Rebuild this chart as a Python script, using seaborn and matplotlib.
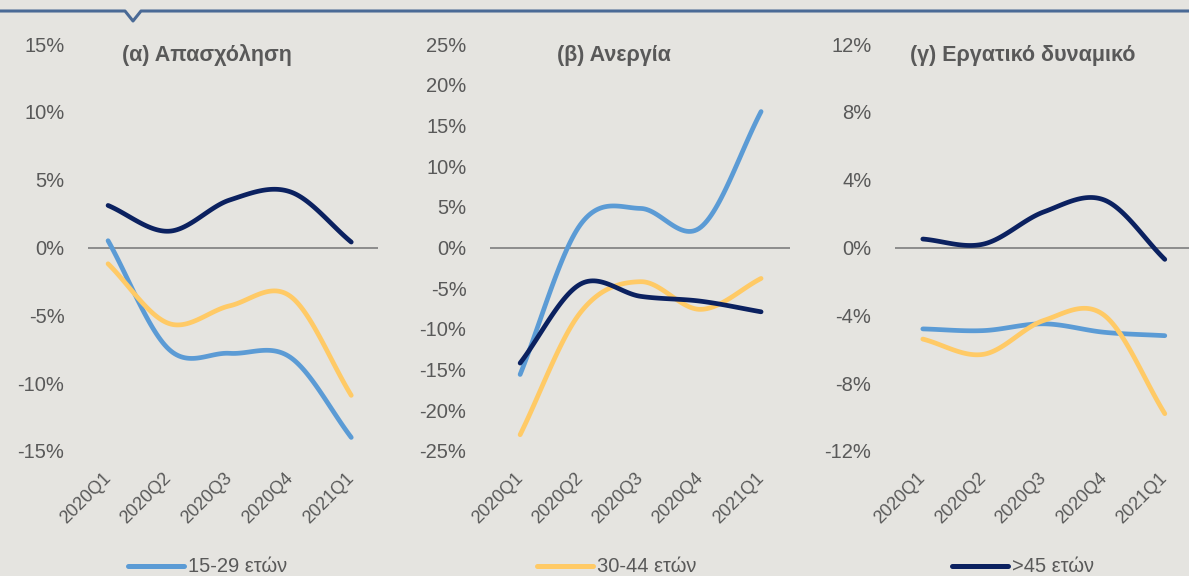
import numpy as np
import pandas as pd
import matplotlib
matplotlib.use("Agg")
import matplotlib.pyplot as plt
import seaborn as sns
from matplotlib.lines import Line2D

# ---------------- data ----------------
quarters = ["2020Q1", "2020Q2", "2020Q3", "2020Q4", "2021Q1"]
series_names = ["15-29 ετών", "30-44 ετών", ">45 ετών"]
titles = ["(α) Απασχόληση", "(β) Ανεργία", "(γ) Εργατικό δυναμικό"]

emp_15_29 = [0.5, -7.5, -7.8, -8.1, -14.0]
emp_30_44 = [-1.2, -5.6, -4.3, -3.6, -10.9]
emp_45 = [3.1, 1.2, 3.5, 4.1, 0.4]

unemp_15_29 = [-15.6, 2.8, 4.8, 2.5, 16.7]
unemp_30_44 = [-23.0, -8.0, -4.2, -7.6, -3.8]
unemp_45 = [-14.2, -4.5, -6.0, -6.6, -7.9]

lf_15_29 = [-4.8, -4.9, -4.5, -5.0, -5.2]
lf_30_44 = [-5.4, -6.3, -4.3, -4.0, -9.8]
lf_45 = [0.5, 0.2, 2.1, 2.8, -0.7]

panels = [
    [emp_15_29, emp_30_44, emp_45],
    [unemp_15_29, unemp_30_44, unemp_45],
    [lf_15_29, lf_30_44, lf_45],
]
yticks = [
    [-15, -10, -5, 0, 5, 10, 15],
    [-25, -20, -15, -10, -5, 0, 5, 10, 15, 20, 25],
    [-12, -8, -4, 0, 4, 8, 12],
]

colors = ["#5B9BD5", "#FFCA66", "#0B2160"]
BG = "#E5E4E0"
TXT = "#595959"

W, H = 1189, 576


def smooth(values, n=30):
    """Catmull-Rom curve through the points (Excel-like smoothed line)."""
    y = np.asarray(values, float)
    x = np.arange(len(y), dtype=float)
    xp = np.concatenate([[2 * x[0] - x[1]], x, [2 * x[-1] - x[-2]]])
    yp = np.concatenate([[2 * y[0] - y[1]], y, [2 * y[-1] - y[-2]]])
    xs, ys = [], []
    for i in range(1, len(xp) - 2):
        t = np.linspace(0, 1, n, endpoint=(i == len(xp) - 3))
        for arr, out in ((xp, xs), (yp, ys)):
            p0, p1, p2, p3 = arr[i - 1], arr[i], arr[i + 1], arr[i + 2]
            out.extend(0.5 * ((2 * p1) + (-p0 + p2) * t
                              + (2 * p0 - 5 * p1 + 4 * p2 - p3) * t ** 2
                              + (-p0 + 3 * p1 - 3 * p2 + p3) * t ** 3))
    return np.array(xs), np.array(ys)


sns.set_theme(style="white")
plt.rcParams["font.family"] = ["Liberation Sans", "DejaVu Sans"]

fig = plt.figure(figsize=(W / 100, H / 100), dpi=100, facecolor=BG)

# axes boxes in pixel coords: (left, right), and x-limits
boxes = [(88, 378), (490, 790), (895, 1189)]
xlims = [(-0.33, 4.44), (-0.5, 4.48), (-0.46, 4.4)]
top_px, bot_px = 44, 451
title_x = [207, 614, 1023]

for k in range(3):
    l, r = boxes[k]
    ax = fig.add_axes([l / W, 1 - bot_px / H, (r - l) / W, (bot_px - top_px) / H])
    ax.set_facecolor(BG)
    for s, name in enumerate(series_names):
        xs, ys = smooth(panels[k][s])
        df = pd.DataFrame({"x": xs, "y": ys})
        sns.lineplot(data=df, x="x", y="y", ax=ax, color=colors[s], lw=3.4,
                     sort=False, estimator=None, solid_capstyle="round",
                     zorder=3 + s, legend=False)
    ax.axhline(0, color="#8C8C8C", lw=1.4, zorder=2)
    yt = yticks[k]
    ax.set_ylim(yt[0], yt[-1])
    ax.set_yticks(yt)
    ax.set_yticklabels([f"{v}%" for v in yt])
    ax.set_xlim(*xlims[k])
    ax.set_xticks(range(len(quarters)))
    ax.set_xticklabels(quarters, rotation=45, ha="right", va="center",
                       rotation_mode="anchor")
    ax.tick_params(axis="y", length=0, pad=17, labelsize=14.5, labelcolor=TXT)
    ax.tick_params(axis="x", length=0, pad=18, labelsize=13, labelcolor=TXT)
    ax.set_xlabel("")
    ax.set_ylabel("")
    for sp in ax.spines.values():
        sp.set_visible(False)
    fig.text(title_x[k] / W, 1 - 55 / H, titles[k], ha="center", va="center",
             fontsize=15.5, fontweight="bold", color=TXT)

# top decorative line with notch
fig.add_artist(Line2D([0, 125 / W, 133 / W, 141 / W, 1],
                      [1 - 11 / H, 1 - 11 / H, 1 - 21 / H, 1 - 11 / H, 1 - 11 / H],
                      color="#4A6A96", lw=2.2, transform=fig.transFigure))

# legend at bottom
leg_x = [128, 537, 952]
for s, name in enumerate(series_names):
    x0 = leg_x[s]
    fig.add_artist(Line2D([x0 / W, (x0 + 56) / W], [1 - 566 / H] * 2,
                          color=colors[s], lw=3.6, solid_capstyle="round",
                          transform=fig.transFigure))
    fig.text((x0 + 60) / W, 1 - 566 / H, name, ha="left", va="center",
             fontsize=14.5, color=TXT)

fig.savefig("out.png", dpi=100, facecolor=BG)
